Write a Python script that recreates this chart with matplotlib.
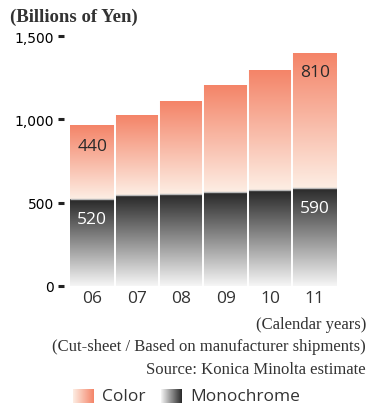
import numpy as np
import matplotlib
matplotlib.use("Agg")
import matplotlib.pyplot as plt
from matplotlib.colors import LinearSegmentedColormap

years = ["06", "07", "08", "09", "10", "11"]
mono = [520, 545, 555, 562, 575, 590]
color = [440, 475, 555, 638, 715, 810]
label_years = {0: (440, 520), 5: (810, 590)}
yticks = [0, 500, 1000, 1500]
ytick_labels = ["0", "500", "1,000", "1,500"]

W, H = 368, 406
fig = plt.figure(figsize=(W / 100, H / 100), dpi=100)
ax = fig.add_axes([70 / W, (H - 287) / H, (337 - 70) / W, 250 / H])

cmap_color = LinearSegmentedColormap.from_list("c", [(253/255, 238/255, 228/255), (244/255, 132/255, 104/255)])
cmap_mono = LinearSegmentedColormap.from_list("m", [(246/255, 246/255, 246/255), (40/255, 40/255, 40/255)])
grad = np.linspace(0, 1, 256).reshape(-1, 1)

for i, (m, c) in enumerate(zip(mono, color)):
    x0, x1 = i - 0.5, i + 0.5
    ax.imshow(grad, extent=[x0, x1, 0, m], origin="lower", aspect="auto", cmap=cmap_mono, zorder=1)
    ax.imshow(grad, extent=[x0, x1, m, m + c], origin="lower", aspect="auto", cmap=cmap_color, zorder=1)
    ax.plot([x0, x1], [m, m], color="#b8b8b8", lw=1.0, zorder=2, solid_capstyle="butt")
for i in range(1, len(years)):
    ax.axvline(i - 0.5, color="white", lw=1.4, zorder=3)

for i, (c_lab, m_lab) in label_years.items():
    m = mono[i]
    c = color[i]
    ax.text(i, m + c - 70, str(c_lab), ha="center", va="top", fontsize=12.5,
            color="#2a2a2a", family="Open Sans", zorder=4)
    ax.text(i, m - 72, str(m_lab), ha="center", va="top", fontsize=12.5,
            color="white", family="Open Sans", zorder=4)

ax.set_xlim(-0.5, len(years) - 0.5)
ax.set_ylim(0, 1500)
ax.set_xticks(range(len(years)))
ax.set_xticklabels(years, family="Open Sans", fontsize=12.5, color="#333333")
ax.set_yticks(yticks)
ax.set_yticklabels(ytick_labels, family="Open Sans", fontsize=13, color="#333333")
for s in ax.spines.values():
    s.set_visible(False)
ax.spines["left"].set_position(("outward", 4.3))
ax.tick_params(axis="y", direction="out", length=4.3, width=2.2, color="#222222", pad=3)
ax.tick_params(axis="x", length=0, pad=3)

serif = "Liberation Serif"
fig.text(10 / W, 1 - 17 / H, "(Billions of Yen)", ha="left", va="center",
         family=serif, fontsize=13.5, fontweight="bold", color="#333333")
fig.text(366 / W, 1 - 325 / H, "(Calendar years)", ha="right", va="center",
         family=serif, fontsize=12, color="#333333")
fig.text(366 / W, 1 - 347 / H, "(Cut-sheet / Based on manufacturer shipments)", ha="right", va="center",
         family=serif, fontsize=12, color="#333333")
fig.text(366 / W, 1 - 370 / H, "Source: Konica Minolta estimate", ha="right", va="center",
         family=serif, fontsize=12, color="#333333")

# legend
hgrad = np.linspace(0, 1, 256).reshape(1, -1)
for x0, cm, label, tx in [(73, cmap_color, "Color", 102), (161, cmap_mono, "Monochrome", 190)]:
    lax = fig.add_axes([x0 / W, (H - 404) / H, 21 / W, 14 / H])
    lax.imshow(hgrad, aspect="auto", cmap=cm)
    lax.axis("off")
    fig.text(tx / W, 1 - 397 / H, label, ha="left", va="center",
             family="Open Sans", fontsize=12.5, color="#333333")

fig.savefig("out.png", dpi=100)
